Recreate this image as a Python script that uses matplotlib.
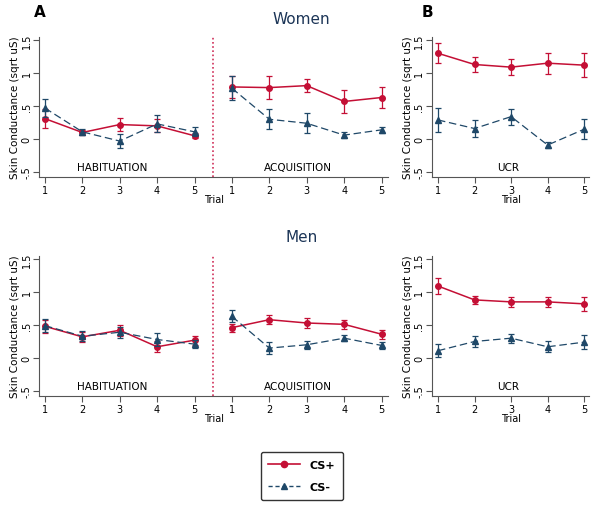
import matplotlib
matplotlib.use('Agg')
import matplotlib.pyplot as plt
from matplotlib.lines import Line2D

trials = [1, 2, 3, 4, 5]
tick_labels = ['1', '2', '3', '4', '5']

# Women - habituation / acquisition / UCR  (mean, error)
w_hab_csp = [0.31, 0.10, 0.22, 0.20, 0.05]
w_hab_csp_err = [0.14, 0.04, 0.10, 0.10, 0.04]
w_hab_csm = [0.47, 0.11, -0.03, 0.23, 0.11]
w_hab_csm_err = [0.13, 0.05, 0.10, 0.13, 0.07]
w_acq_csp = [0.79, 0.78, 0.81, 0.57, 0.63]
w_acq_csp_err = [0.16, 0.17, 0.10, 0.17, 0.16]
w_acq_csm = [0.77, 0.30, 0.24, 0.06, 0.14]
w_acq_csm_err = [0.18, 0.15, 0.15, 0.05, 0.05]
w_ucr_csp = [1.30, 1.13, 1.09, 1.15, 1.12]
w_ucr_csp_err = [0.15, 0.11, 0.12, 0.16, 0.18]
w_ucr_csm = [0.29, 0.16, 0.34, -0.09, 0.15]
w_ucr_csm_err = [0.18, 0.13, 0.12, 0.05, 0.15]

# Men
m_hab_csp = [0.48, 0.32, 0.42, 0.17, 0.27]
m_hab_csp_err = [0.10, 0.08, 0.08, 0.08, 0.07]
m_hab_csm = [0.49, 0.33, 0.39, 0.28, 0.21]
m_hab_csm_err = [0.10, 0.08, 0.08, 0.10, 0.06]
m_acq_csp = [0.46, 0.58, 0.53, 0.51, 0.36]
m_acq_csp_err = [0.06, 0.07, 0.07, 0.07, 0.07]
m_acq_csm = [0.63, 0.15, 0.20, 0.30, 0.19]
m_acq_csm_err = [0.09, 0.09, 0.06, 0.05, 0.05]
m_ucr_csp = [1.09, 0.88, 0.85, 0.85, 0.82]
m_ucr_csp_err = [0.12, 0.06, 0.08, 0.08, 0.11]
m_ucr_csm = [0.11, 0.25, 0.30, 0.17, 0.24]
m_ucr_csm_err = [0.10, 0.09, 0.07, 0.08, 0.11]

RED = '#c40f35'
BLUE = '#1f4868'
GRAY = '#555555'
TITLE = '#1c3557'


def series(ax, x, y, err, kind):
    if kind == 'csp':
        ax.errorbar(x, y, yerr=err, color=RED, ecolor=RED, elinewidth=0.9,
                    capsize=2.5, capthick=0.9, lw=1.1, marker='o', ms=4,
                    ls='-', zorder=3)
    else:
        ax.errorbar(x, y, yerr=err, color=BLUE, ecolor=BLUE, elinewidth=0.9,
                    capsize=2.5, capthick=0.9, lw=0.9, marker='^', ms=4.5,
                    ls=(0, (6, 3)), zorder=4)


def style(ax):
    ax.set_ylim(-0.576, 1.545)
    ax.set_yticks([-0.5, 0, 0.5, 1, 1.5])
    ax.set_yticklabels(['-.5', '0', '.5', '1', '1.5'], rotation=90, va='center')
    for s in ['top', 'right']:
        ax.spines[s].set_visible(False)
    for s in ['left', 'bottom']:
        ax.spines[s].set_color(GRAY)
        ax.spines[s].set_linewidth(0.8)
    ax.tick_params(colors=GRAY, labelcolor='black', labelsize=7, length=4, width=0.8)
    ax.tick_params(axis='y', pad=1.5)
    ax.tick_params(axis='x', pad=2)
    ax.set_xlabel('Trial', fontsize=7, labelpad=-1)
    ax.set_ylabel('Skin Conductance (sqrt uS)', fontsize=7.5, labelpad=1)


def phase_panel(ax, hp, hpe, hm, hme, ap, ape, am, ame):
    x_hab = trials
    x_acq = [t + 5 for t in trials]
    series(ax, x_hab, hp, hpe, 'csp')
    series(ax, x_hab, hm, hme, 'csm')
    series(ax, x_acq, ap, ape, 'csp')
    series(ax, x_acq, am, ame, 'csm')
    ax.axvline(5.5, color='#d0305a', ls=(0, (1, 1.5)), lw=1.2)
    ax.set_xlim(0.85, 10.17)
    ax.set_xticks(x_hab + x_acq)
    ax.set_xticklabels(tick_labels + tick_labels)
    ax.text(2.8, -0.43, 'HABITUATION', fontsize=7.5, ha='center', va='center')
    ax.text(7.76, -0.43, 'ACQUISITION', fontsize=7.5, ha='center', va='center')
    style(ax)


def ucr_panel(ax, p, pe, m, me):
    series(ax, trials, p, pe, 'csp')
    series(ax, trials, m, me, 'csm')
    ax.set_xlim(0.836, 5.137)
    ax.set_xticks(trials)
    ax.set_xticklabels(tick_labels)
    ax.text(2.92, -0.43, 'UCR', fontsize=7.5, ha='center', va='center')
    style(ax)


fig = plt.figure(figsize=(6.0, 5.06), dpi=100)
ax1 = fig.add_axes([0.0655, 0.648, 0.581, 0.2767])
ax2 = fig.add_axes([0.72, 0.648, 0.262, 0.2767])
ax3 = fig.add_axes([0.0655, 0.2154, 0.581, 0.2767])
ax4 = fig.add_axes([0.72, 0.2154, 0.262, 0.2767])

phase_panel(ax1, w_hab_csp, w_hab_csp_err, w_hab_csm, w_hab_csm_err,
            w_acq_csp, w_acq_csp_err, w_acq_csm, w_acq_csm_err)
ucr_panel(ax2, w_ucr_csp, w_ucr_csp_err, w_ucr_csm, w_ucr_csm_err)
phase_panel(ax3, m_hab_csp, m_hab_csp_err, m_hab_csm, m_hab_csm_err,
            m_acq_csp, m_acq_csp_err, m_acq_csm, m_acq_csm_err)
ucr_panel(ax4, m_ucr_csp, m_ucr_csp_err, m_ucr_csm, m_ucr_csm_err)

fig.text(0.503, 0.962, 'Women', fontsize=11, color=TITLE, ha='center', va='center')
fig.text(0.503, 0.530, 'Men', fontsize=11, color=TITLE, ha='center', va='center')
fig.text(0.067, 0.975, 'A', fontsize=11, fontweight='bold', ha='center', va='center')
fig.text(0.712, 0.975, 'B', fontsize=11, fontweight='bold', ha='center', va='center')

handles = [
    Line2D([], [], color=RED, lw=1.2, marker='o', ms=4.5),
    Line2D([], [], color=BLUE, lw=1.0, marker='^', ms=5, ls=(0, (3, 2))),
]
leg = fig.legend(handles, ['CS+', 'CS-'], loc='center', bbox_to_anchor=(0.503, 0.057),
                 fancybox=True, edgecolor='#333333', framealpha=1,
                 prop={'size': 8, 'weight': 'bold'}, handlelength=2.8,
                 labelspacing=1.1, borderpad=0.7, handletextpad=0.9)
leg.get_frame().set_linewidth(1.0)

fig.savefig('out.png', dpi=100)
